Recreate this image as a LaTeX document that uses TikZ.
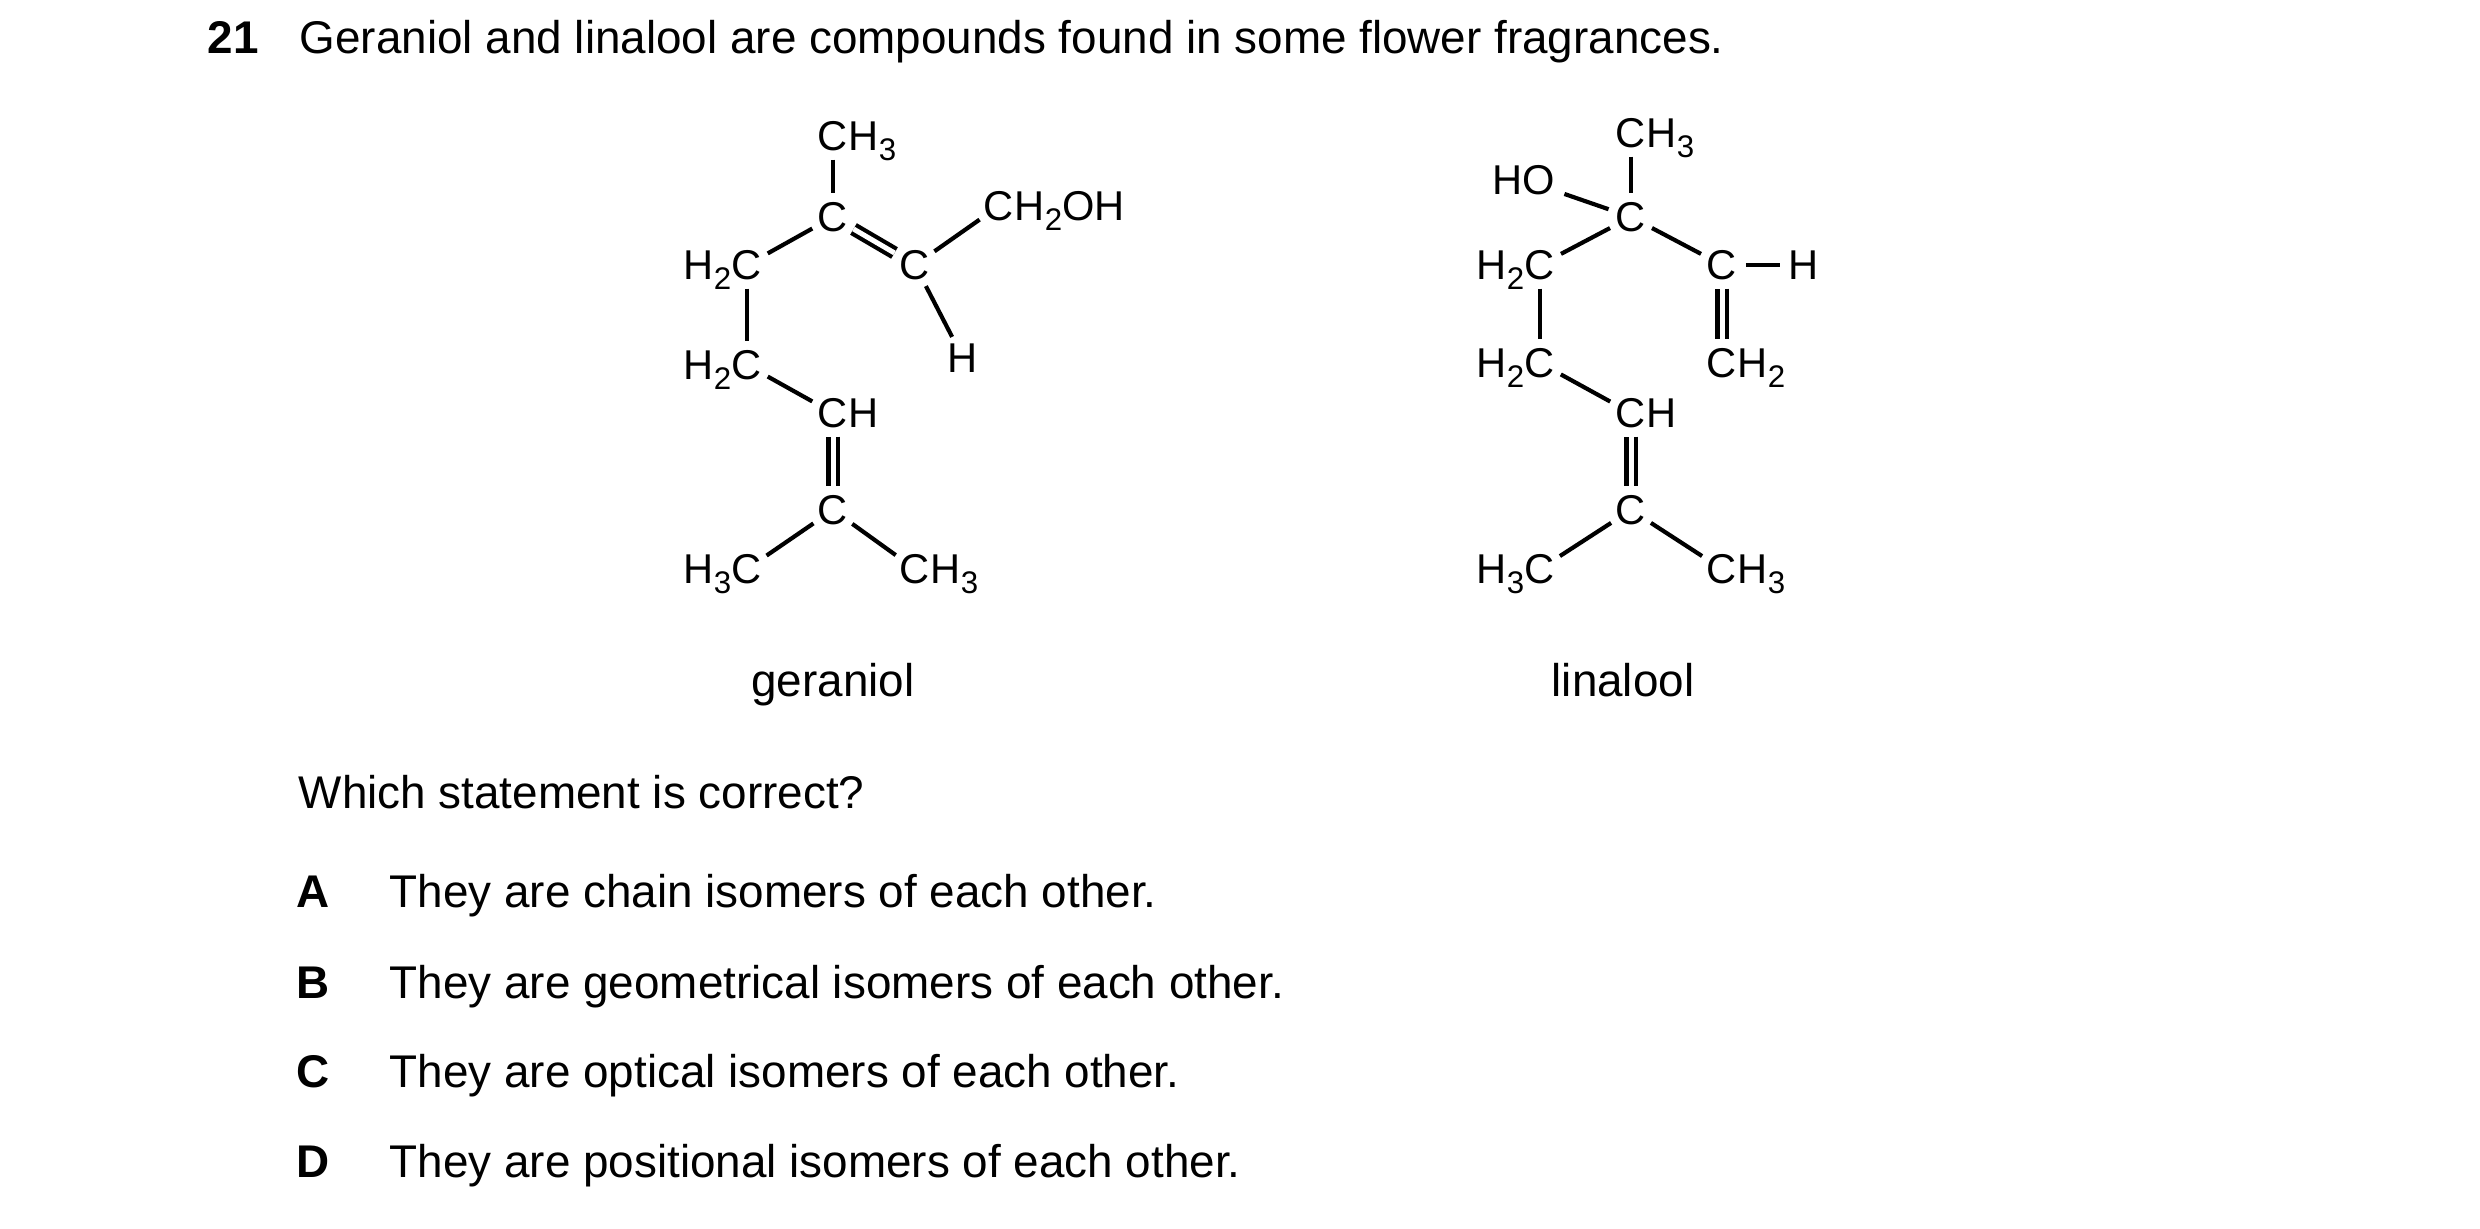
\documentclass[tikz,border=0pt]{standalone}
\usepackage{fontspec}
\setmainfont{Liberation Sans}
\newcommand\chsub[1]{\raisebox{-0.45ex}{\fontsize{7.5}{8}\selectfont #1}}
\begin{document}
\begin{tikzpicture}[x=0.24pt,y=-0.24pt,
  atom/.style={circle,inner sep=0pt,minimum size=11pt,font=\fontsize{10}{12}\selectfont},
  grp/.style={inner sep=0pt,font=\fontsize{10}{12}\selectfont},
  bond/.style={line width=1pt},
  dbl/.style={line width=1pt,double,double distance=1.2pt},
  txt/.style={anchor=base west,inner sep=0pt,font=\fontsize{11}{13}\selectfont}]
\useasboundingbox (0,0) rectangle (2480,1229);
% header
\node[txt,font=\fontsize{11}{13}\selectfont\bfseries] (num) at (207,54) {21};
\node[txt] (q) at (299,54) {Geraniol and linalool are compounds found in some flower fragrances.};
% ---------- geraniol ----------
\node[atom] (g1) at (833,136) {C};
\node[grp,anchor=base west] (g1h) at ([xshift=3.6pt]g1.base) {H\chsub{3}};
\node[atom] (g2) at (833,217) {C};
\node[atom] (g3) at (747,265) {C};
\node[grp,anchor=base east] (g3h) at ([xshift=-3.6pt]g3.base) {H\chsub{2}};
\node[atom] (g4) at (915,265) {C};
\node[atom] (g5) at (999,206) {C};
\node[grp,anchor=base west] (g5h) at ([xshift=3.6pt]g5.base) {H\chsub{2}OH};
\node[atom] (g6) at (963,358) {H};
\node[atom] (g7) at (747,365) {C};
\node[grp,anchor=base east] (g7h) at ([xshift=-3.6pt]g7.base) {H\chsub{2}};
\node[atom] (g8) at (833,413) {C};
\node[grp,anchor=base west] (g8h) at ([xshift=3.6pt]g8.base) {H};
\node[atom] (g9) at (833,510) {C};
\node[atom] (g10) at (747,569) {C};
\node[grp,anchor=base east] (g10h) at ([xshift=-3.6pt]g10.base) {H\chsub{3}};
\node[atom] (g11) at (915,569) {C};
\node[grp,anchor=base west] (g11h) at ([xshift=3.6pt]g11.base) {H\chsub{3}};
\draw[bond] (g1) -- (g2);
\draw[bond] (g3) -- (g2);
\draw[dbl] (g2) -- (g4);
\draw[bond] (g4) -- (g5);
\draw[bond] (g4) -- (g6);
\draw[bond] (g3) -- (g7);
\draw[bond] (g7) -- (g8);
\draw[dbl] (g8) -- (g9);
\draw[bond] (g9) -- (g10);
\draw[bond] (g9) -- (g11);
\node[txt,anchor=base] (gname) at (833,697) {geraniol};
% ---------- linalool ----------
\node[atom] (l1) at (1631,133) {C};
\node[grp,anchor=base west] (l1h) at ([xshift=3.6pt]l1.base) {H\chsub{3}};
\node[grp,inner sep=2pt] (ho) at (1524,180) {HO};
\node[atom] (l2) at (1631,217) {C};
\node[atom] (l3) at (1540,265) {C};
\node[grp,anchor=base east] (l3h) at ([xshift=-3.6pt]l3.base) {H\chsub{2}};
\node[atom] (l4) at (1722,265) {C};
\node[atom] (l5) at (1804,265) {H};
\node[atom] (l6) at (1722,363) {C};
\node[grp,anchor=base west] (l6h) at ([xshift=3.6pt]l6.base) {H\chsub{2}};
\node[atom] (l7) at (1540,363) {C};
\node[grp,anchor=base east] (l7h) at ([xshift=-3.6pt]l7.base) {H\chsub{2}};
\node[atom] (l8) at (1631,413) {C};
\node[grp,anchor=base west] (l8h) at ([xshift=3.6pt]l8.base) {H};
\node[atom] (l9) at (1631,510) {C};
\node[atom] (l10) at (1540,569) {C};
\node[grp,anchor=base east] (l10h) at ([xshift=-3.6pt]l10.base) {H\chsub{3}};
\node[atom] (l11) at (1722,569) {C};
\node[grp,anchor=base west] (l11h) at ([xshift=3.6pt]l11.base) {H\chsub{3}};
\draw[bond] (l1) -- (l2);
\draw[bond] (ho) -- (l2);
\draw[bond] (l3) -- (l2);
\draw[bond] (l2) -- (l4);
\draw[bond] (l4) -- (l5);
\draw[dbl] (l4) -- (l6);
\draw[bond] (l3) -- (l7);
\draw[bond] (l7) -- (l8);
\draw[dbl] (l8) -- (l9);
\draw[bond] (l9) -- (l10);
\draw[bond] (l9) -- (l11);
\node[txt,anchor=base] (lname) at (1623,697) {linalool};
% ---------- question ----------
\node[txt] (ask) at (298,809) {Which statement is correct?};
\node[txt,font=\fontsize{11}{13}\selectfont\bfseries] (la) at (296,908) {A};
\node[txt] (ta) at (389,908) {They are chain isomers of each other.};
\node[txt,font=\fontsize{11}{13}\selectfont\bfseries] (lb) at (296,999) {B};
\node[txt] (tb) at (389,999) {They are geometrical isomers of each other.};
\node[txt,font=\fontsize{11}{13}\selectfont\bfseries] (lc) at (296,1088) {C};
\node[txt] (tc) at (389,1088) {They are optical isomers of each other.};
\node[txt,font=\fontsize{11}{13}\selectfont\bfseries] (ld) at (296,1178) {D};
\node[txt] (td) at (389,1178) {They are positional isomers of each other.};
\end{tikzpicture}
\end{document}
